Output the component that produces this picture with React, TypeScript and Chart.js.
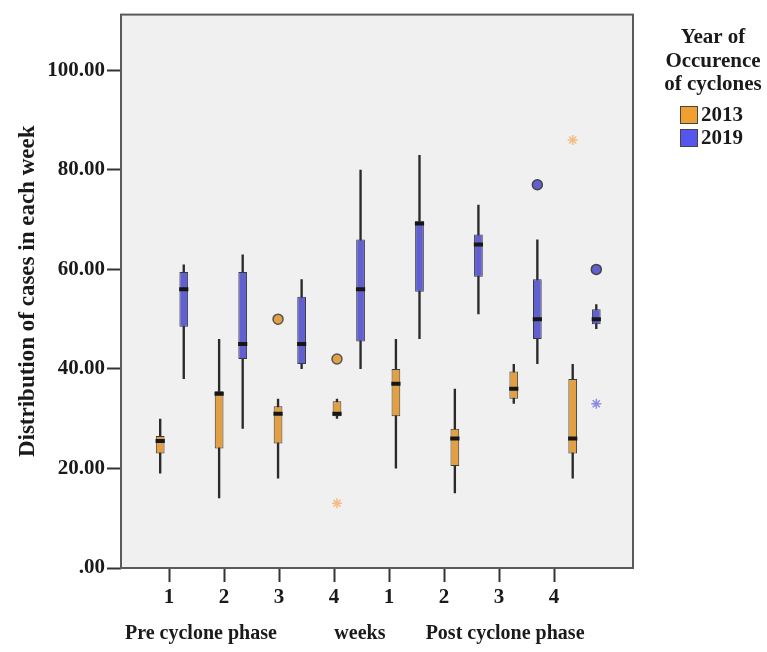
import React, { useEffect, useRef } from 'react';
import { Chart, registerables } from 'chart.js';

Chart.register(...registerables);

// ---------- data ----------
const weekLabels = ['1', '2', '3', '4', '1', '2', '3', '4'];
const phaseLabels = ['Pre cyclone phase', 'weeks', 'Post cyclone phase'];
const yTickValues = [0, 20, 40, 60, 80, 100];
const years = ['2013', '2019'];
const legendTitle = ['Year of', 'Occurence', 'of cyclones'];
const yTitle = 'Distribution of cases in each week';

const min2013 = [19, 14, 18, 30, 20, 15, 33, 18];
const q1_2013 = [23, 24, 25, 30.5, 30.5, 20.5, 34, 23];
const med2013 = [25.5, 35, 31, 31, 37, 26, 36, 26];
const q3_2013 = [26.5, 35.5, 32.5, 33.5, 40, 28, 39.5, 38];
const max2013 = [30, 46, 34, 34, 46, 36, 41, 41];

const min2019 = [38, 28, 40, 40, 46, 51, 41, 48];
const q1_2019 = [48.5, 42, 41, 45.5, 55.5, 58.5, 46, 49];
const med2019 = [56, 45, 45, 56, 69.2, 65, 50, 50];
const q3_2019 = [59.5, 59.5, 54.5, 66, 69.8, 67, 58, 52];
const max2019 = [61, 63, 58, 80, 83, 73, 66, 53];

// outliers (category index, value)
const circleCat2013 = [2, 3];
const circleVal2013 = [50, 42];
const starCat2013 = [3, 7];
const starVal2013 = [13, 86];
const circleCat2019 = [6, 7];
const circleVal2019 = [77, 60];
const starCat2019 = [7];
const starVal2019 = [33];

// ---------- styles ----------
const ORANGE = '#E3A042';
const BLUE = '#6060D0';
const ORANGE_LEG = '#F0A030';
const BLUE_LEG = '#5656EE';
const ORANGE_STAR = '#F2BC84';
const BLUE_STAR = '#8C8CE6';
const DARK = '#2a2a2a';
const FONT = '"Liberation Serif", "Times New Roman", serif';
const CAT_PCT = 0.8;
const SHIFT = CAT_PCT / 4;

const boxData = (lo: number[], hi: number[]) => lo.map((v, i) => ({ x: i, y: [v, hi[i]] }));
const medData = (m: number[]) => m.map((v, i) => ({ x: i, y: [v - 0.4, v + 0.4] }));
const ptData = (cats: number[], vals: number[], shift: number) =>
  cats.map((c, i) => ({ x: c + shift, y: vals[i] }));

function makeBoxSets(year: string, color: string, mn: number[], q1: number[], md: number[], q3: number[], mx: number[]) {
  return [
    {
      type: 'bar', label: year + '_w', stack: year, order: 3,
      data: boxData(mn, mx), backgroundColor: DARK, borderWidth: 0,
      barPercentage: 0.1, categoryPercentage: CAT_PCT,
    },
    {
      type: 'bar', label: year, stack: year, order: 2,
      data: boxData(q1, q3), backgroundColor: color, borderColor: '#3a3a3a', borderWidth: 1,
      borderSkipped: false, barPercentage: 0.37, categoryPercentage: CAT_PCT,
    },
    {
      type: 'bar', label: year + '_m', stack: year, order: 1,
      data: medData(md), backgroundColor: '#161616', borderWidth: 0,
      barPercentage: 0.39, categoryPercentage: CAT_PCT,
    },
  ];
}

const framePlugin = {
  id: 'frameAndText',
  beforeDraw(chart: any) {
    const { ctx, chartArea: a } = chart;
    ctx.save();
    ctx.fillStyle = '#F0F0F0';
    ctx.fillRect(a.left, a.top, a.right - a.left, a.bottom - a.top);
    ctx.restore();
  },
  afterDraw(chart: any) {
    const { ctx, chartArea: a } = chart;
    ctx.save();
    ctx.strokeStyle = '#5a5a5a';
    ctx.lineWidth = 2;
    ctx.strokeRect(a.left, a.top, a.right - a.left, a.bottom - a.top);

    // phase labels under the axis
    ctx.fillStyle = '#1a1a1a';
    ctx.textBaseline = 'middle';
    ctx.textAlign = 'center';
    ctx.font = `bold 20px ${FONT}`;
    const xt = chart.scales.xt;
    const phasePos = [0.58, 3.47, 6.11];
    phaseLabels.forEach((t, i) => ctx.fillText(t, xt.getPixelForValue(phasePos[i]), 634));

    // legend
    const lx = a.right + 80;
    ctx.font = `bold 21px ${FONT}`;
    legendTitle.forEach((t, i) => ctx.fillText(t, lx, 38 + i * 23.5));
    const swatch = [ORANGE_LEG, BLUE_LEG];
    years.forEach((y, i) => {
      const cy = 115 + i * 23;
      ctx.fillStyle = swatch[i];
      ctx.fillRect(a.right + 47, cy - 9, 18, 18);
      ctx.strokeStyle = '#444';
      ctx.lineWidth = 1;
      ctx.strokeRect(a.right + 47.5, cy - 8.5, 17, 17);
      ctx.fillStyle = '#1a1a1a';
      ctx.textAlign = 'left';
      ctx.fillText(y, a.right + 68, cy + 1);
      ctx.textAlign = 'center';
    });
    ctx.restore();
  },
};

export default function App() {
  const ref = useRef<HTMLCanvasElement>(null);
  useEffect(() => {
    const datasets: any[] = [
      ...makeBoxSets('2013', ORANGE, min2013, q1_2013, med2013, q3_2013, max2013),
      ...makeBoxSets('2019', BLUE, min2019, q1_2019, med2019, q3_2019, max2019),
      {
        type: 'scatter', label: 'o2013', order: 0, data: ptData(circleCat2013, circleVal2013, -SHIFT),
        pointStyle: 'circle', pointRadius: 5, backgroundColor: ORANGE, borderColor: '#555', borderWidth: 1.5,
      },
      {
        type: 'scatter', label: 's2013', order: 0, data: ptData(starCat2013, starVal2013, -SHIFT),
        pointStyle: 'star', pointRadius: 5, backgroundColor: ORANGE_STAR, borderColor: ORANGE_STAR, borderWidth: 1.5,
      },
      {
        type: 'scatter', label: 'o2019', order: 0, data: ptData(circleCat2019, circleVal2019, SHIFT),
        pointStyle: 'circle', pointRadius: 5, backgroundColor: BLUE, borderColor: '#444', borderWidth: 1.5,
      },
      {
        type: 'scatter', label: 's2019', order: 0, data: ptData(starCat2019, starVal2019, SHIFT),
        pointStyle: 'star', pointRadius: 5, backgroundColor: BLUE_STAR, borderColor: BLUE_STAR, borderWidth: 1.5,
      },
    ];

    const chart = new Chart(ref.current as HTMLCanvasElement, {
      type: 'bar',
      data: { datasets },
      plugins: [framePlugin],
      options: {
        animation: false,
        responsive: true,
        maintainAspectRatio: false,
        layout: { padding: { left: 0, top: 12, right: 134, bottom: 0 } },
        plugins: { legend: { display: false }, tooltip: { enabled: false } },
        scales: {
          x: {
            type: 'linear', axis: 'x', position: 'bottom', display: false, offset: false,
            grid: { offset: false },
            min: -0.865, max: 7.823,
          },
          xt: {
            type: 'linear', axis: 'x', position: 'bottom', min: -0.873, max: 8.436, offset: false,
            afterBuildTicks: (s: any) => { s.ticks = weekLabels.map((_, i) => ({ value: i })); },
            afterFit: (s: any) => { s.height = 84; },
            ticks: {
              callback: (v: any) => weekLabels[v] ?? '',
              font: { family: FONT, size: 21, weight: 'bold' }, color: '#1a1a1a', padding: 3, maxRotation: 0,
              autoSkip: false,
            },
            grid: { offset: false, drawOnChartArea: false, drawTicks: true, tickLength: 14, tickColor: '#333', tickWidth: 2 },
            border: { display: false },
          },
          y: {
            type: 'linear', min: 0, max: 111.2, stacked: false,
            afterBuildTicks: (s: any) => { s.ticks = yTickValues.map((v) => ({ value: v })); },
            afterFit: (s: any) => { s.width = 121; },
            ticks: {
              callback: (v: any) => (v === 0 ? '.00' : Number(v).toFixed(2)),
              font: { family: FONT, size: 21, weight: 'bold' }, color: '#1a1a1a', padding: 2,
            },
            grid: { drawOnChartArea: false, drawTicks: true, tickLength: 14, tickColor: '#333', tickWidth: 2 },
            border: { display: false },
            title: {
              display: true, text: yTitle, color: '#1a1a1a',
              font: { family: FONT, size: 23, weight: 'bold' }, padding: { top: 14, bottom: 0 },
            },
          },
        },
      } as any,
    } as any);
    return () => chart.destroy();
  }, []);

  return (
    <div style={{ position: 'absolute', left: 0, top: 0, width: 767, height: 652, background: '#fff' }}>
      <canvas ref={ref} />
    </div>
  );
}
